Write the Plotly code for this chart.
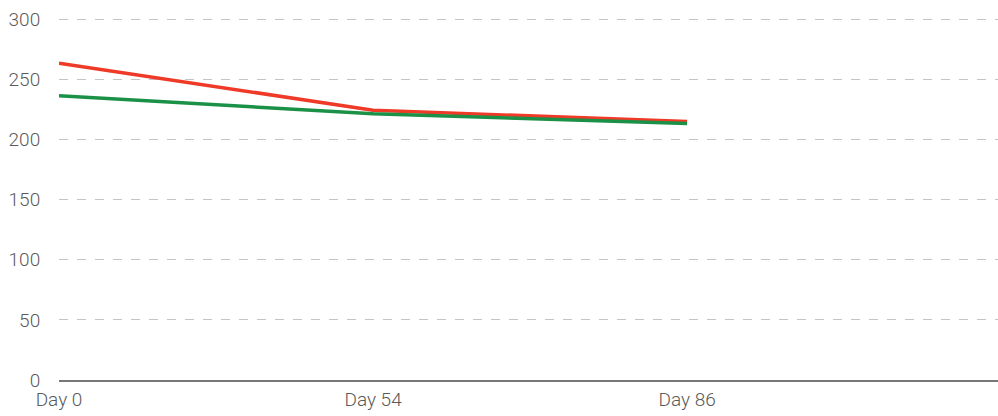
import plotly.graph_objects as go

days = ["Day 0", "Day 54", "Day 86"]
red_values = [263.5, 224.5, 215.0]
green_values = [236.5, 221.5, 213.5]
y_ticks = [0, 50, 100, 150, 200, 250, 300]

fig = go.Figure()
fig.add_trace(go.Scatter(x=days, y=red_values, mode="lines",
                         line=dict(color="#ee3a27", width=3.5), showlegend=False,
                         hoverinfo="skip"))
fig.add_trace(go.Scatter(x=days, y=green_values, mode="lines",
                         line=dict(color="#1b9147", width=3.5), showlegend=False,
                         hoverinfo="skip"))

font = dict(family="Roboto", size=19, color="#5a5a5a", weight=300)

fig.update_layout(
    width=998, height=416,
    margin=dict(l=59, r=0, t=17, b=36, autoexpand=False),
    plot_bgcolor="white", paper_bgcolor="white",
    font=font,
    xaxis=dict(type="category", range=[0, 2.99], showgrid=False, automargin=False,
               showline=True, linecolor="#777777", linewidth=1.5,
               ticks="outside", ticklen=2, tickcolor="rgba(0,0,0,0)",
               tickfont=font, zeroline=False),
    yaxis=dict(range=[0, 302], tickvals=y_ticks, showgrid=True, automargin=False,
               gridcolor="#c4c4c4", griddash="dash", gridwidth=1,
               zeroline=False, showline=False,
               ticks="outside", ticklen=14, tickcolor="rgba(0,0,0,0)",
               tickfont=font),
)

fig.write_html("out.html", config={"displayModeBar": False, "staticPlot": True},
               post_script="document.body.style.margin='0px';document.body.style.overflow='hidden';")
